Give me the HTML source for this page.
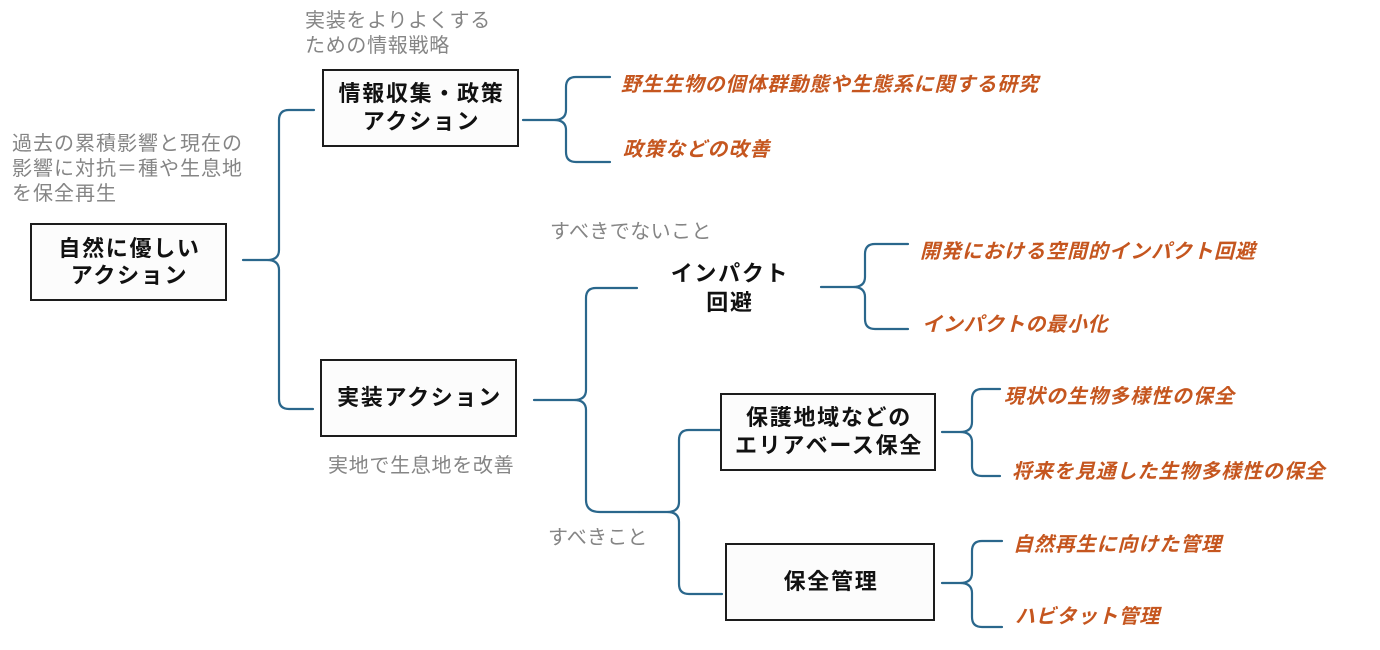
<!DOCTYPE html>
<html>
<head>
<meta charset="utf-8">
<style>
  html,body{margin:0;padding:0;background:#ffffff;}
  body{width:1380px;height:650px;position:relative;overflow:hidden;
       font-family:"Liberation Sans","Noto Sans CJK JP",sans-serif;}
  .t{position:absolute;white-space:nowrap;}
  .gray{color:#858585;font-size:20px;line-height:25px;letter-spacing:0.7px;}
  .org{color:#c5561f;font-size:20px;line-height:24px;font-weight:bold;font-style:italic;letter-spacing:1px;}
  .box{position:absolute;box-sizing:border-box;border:2px solid #1c1c1c;background:#fcfcfc;
       display:flex;align-items:center;justify-content:center;text-align:center;
       font-size:22px;font-weight:bold;letter-spacing:1.7px;color:#111;line-height:28px;padding-left:2px;}
  .lbl{position:absolute;text-align:center;font-size:22px;font-weight:bold;letter-spacing:1.7px;color:#111;line-height:29px;}
  svg{position:absolute;left:0;top:0;}
</style>
</head>
<body>
<svg width="1380" height="650" viewBox="0 0 1380 650">
  <g fill="none" stroke="#2a678c" stroke-width="2.2" stroke-linecap="round" stroke-linejoin="round">
    <path d="M314,110 L289,110 Q279,110 279,120 L279,250 Q279,260 267,260 L243,260 M267,260 Q279,260 279,270 L279,399 Q279,409 289,409 L313,409"/>
    <path d="M610,77 L576,77 Q566,77 566,87 L566,110 Q566,120 554,120 L523,120 M554,120 Q566,120 566,130 L566,152 Q566,162 576,162 L610,162"/>
    <path d="M637,288 L596,288 Q586,288 586,298 L586,390 Q586,400 574,400 L534,400 M574,400 Q586,400 586,410 L586,500 Q586,512 600,512 L639,512"/>
    <path d="M720,430 L689,430 Q679,430 679,440 L679,502 Q679,512 667,512 L639,512 M667,512 Q679,512 679,522 L679,584 Q679,594 689,594 L722,594"/>
    <path d="M908,244 L875,244 Q865,244 865,254 L865,277 Q865,287 853,287 L821,287 M853,287 Q865,287 865,297 L865,319 Q865,329 875,329 L908,329"/>
    <path d="M1000,389 L982,389 Q972,389 972,399 L972,422 Q972,432 960,432 L942,432 M960,432 Q972,432 972,442 L972,466 Q972,476 982,476 L1000,476"/>
    <path d="M1002,541 L982,541 Q972,541 972,551 L972,573 Q972,583 960,583 L942,583 M960,583 Q972,583 972,593 L972,617 Q972,627 982,627 L1002,627"/>
  </g>
</svg>

<!-- gray annotations -->
<div class="t gray" style="left:305px;top:9px;">実装をよりよくする<br>ための情報戦略</div>
<div class="t gray" style="left:12px;top:132px;letter-spacing:1px;">過去の累積影響と現在の<br>影響に対抗＝種や生息地<br>を保全再生</div>
<div class="t gray" style="left:550px;top:220px;letter-spacing:0.4px;">すべきでないこと</div>
<div class="t gray" style="left:328px;top:454px;">実地で生息地を改善</div>
<div class="t gray" style="left:548px;top:526px;letter-spacing:0.2px;">すべきこと</div>

<!-- boxes -->
<div class="box" style="left:30px;top:223px;width:197px;height:78px;line-height:27px;">自然に優しい<br>アクション</div>
<div class="box" style="left:322px;top:69px;width:197px;height:78px;">情報収集・政策<br>アクション</div>
<div class="box" style="left:320px;top:359px;width:197px;height:78px;">実装アクション</div>
<div class="box" style="left:720px;top:393px;width:216px;height:78px;">保護地域などの<br>エリアベース保全</div>
<div class="box" style="left:725px;top:543px;width:210px;height:78px;">保全管理</div>

<div class="lbl" style="left:630px;top:259px;width:200px;">インパクト<br>回避</div>

<!-- orange leaves -->
<div class="t org" style="left:621px;top:73px;letter-spacing:0.9px;">野生生物の個体群動態や生態系に関する研究</div>
<div class="t org" style="left:623px;top:138px;letter-spacing:1.1px;">政策などの改善</div>
<div class="t org" style="left:920px;top:240px;letter-spacing:1px;">開発における空間的インパクト回避</div>
<div class="t org" style="left:922px;top:313px;letter-spacing:0.7px;">インパクトの最小化</div>
<div class="t org" style="left:1004px;top:385px;letter-spacing:1px;">現状の生物多様性の保全</div>
<div class="t org" style="left:1012px;top:460px;letter-spacing:0.9px;">将来を見通した生物多様性の保全</div>
<div class="t org" style="left:1013px;top:533px;letter-spacing:0.9px;">自然再生に向けた管理</div>
<div class="t org" style="left:1015px;top:605px;letter-spacing:0.7px;">ハビタット管理</div>
</body>
</html>
